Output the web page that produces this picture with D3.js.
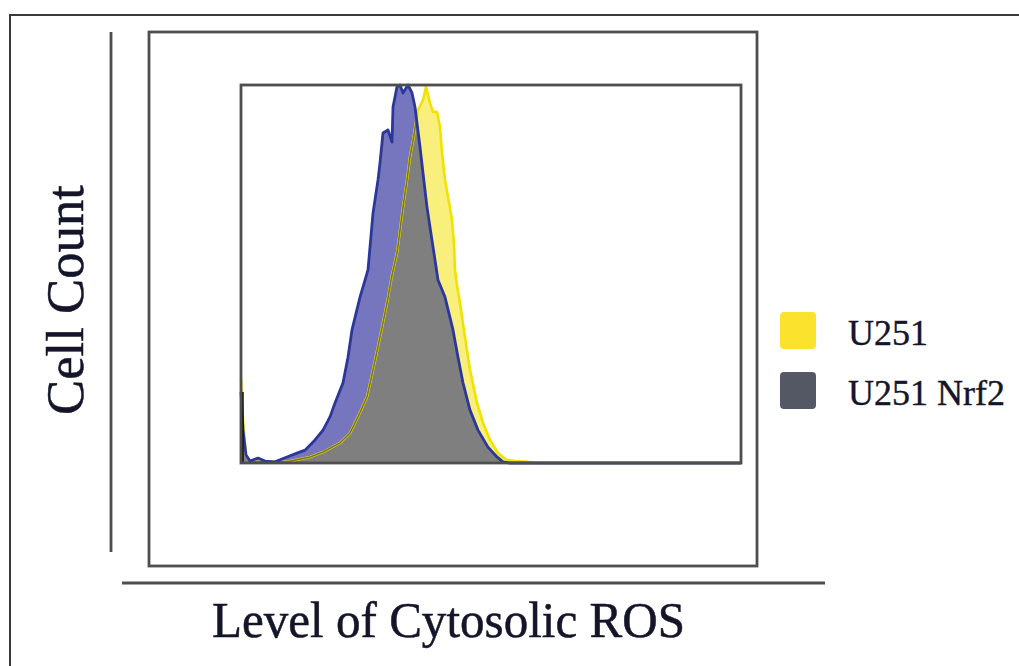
<!DOCTYPE html>
<html>
<head>
<meta charset="utf-8">
<title>Cytosolic ROS histogram</title>
<script src="https://d3js.org/d3.v7.min.js"></script>
<style>
  body { margin: 0; background: #fff; }
  text { font-family: "Liberation Serif", "Times New Roman", serif; fill: #15152a; }
</style>
</head>
<body>
<div id="chart"></div>
<script>

// channel (0-250) and relative cell count (% of max)
var seriesNames = ["U251", "U251 Nrf2"];
var u251Channel = [0, 1, 2.5, 4.5, 14.5, 23, 34.5, 41, 49.5, 54.5, 58.5, 63, 66, 69.5, 73, 75.5, 78, 79.5, 81, 83, 84.5, 86.5, 88.5, 91, 92.5, 94.5, 96, 98, 99.5, 100.5, 102, 103.5, 105.5, 106.5, 107, 108, 109.5, 112, 114.5, 118, 121, 124.5, 128.5, 133, 137, 143, 147, 250];
var u251Count   = [22.5, 11.4, 2.1, 0.3, 0.3, 0.3, 1.6, 2.9, 5.3, 7.9, 12.2, 17.5, 24.6, 33.3, 42.3, 49.7, 55.6, 61.6, 67.7, 74.9, 81.0, 86.8, 93.4, 96.0, 99.5, 95.2, 92.9, 92.9, 88.9, 82.0, 74.9, 70.4, 64.3, 57.7, 51.1, 47.1, 42.3, 33.3, 24.6, 15.9, 10.6, 6.1, 2.6, 0.8, 0.5, 0.3, 0, 0];
var nrf2Channel = [0, 1, 2.5, 4.5, 8.5, 12, 17, 23, 28, 32, 37, 41, 44.5, 47, 51, 53.5, 55.5, 59.5, 62, 63.5, 64.5, 66, 68.5, 69.5, 71, 73.5, 75.5, 76, 78, 79.5, 81, 83.5, 85.5, 87, 88, 89.5, 91, 93, 94.5, 97, 98.5, 102, 106, 108.5, 111, 114.5, 118.5, 123.5, 128, 131, 134.5, 250];
var nrf2Count   = [18.8, 8.7, 2.1, 0.5, 1.3, 0.5, 0.3, 1.6, 2.6, 3.4, 6.1, 8.7, 12.2, 15.9, 21.2, 28.0, 35.2, 43.9, 48.4, 51.1, 57.1, 66.1, 74.9, 79.4, 87.3, 88.1, 84.9, 94.2, 99.5, 100, 97.9, 100, 97.9, 94.2, 89.9, 83.6, 76.7, 67.7, 62.4, 53.7, 48.4, 43.9, 35.2, 28.0, 21.2, 14.0, 8.7, 4.2, 1.6, 0.3, 0, 0];

var u251 = u251Channel.map(function(c, i) { return {x: c, y: u251Count[i]}; });
var nrf2 = nrf2Channel.map(function(c, i) { return {x: c, y: nrf2Count[i]}; });

var W = 1019, H = 666;
var svg = d3.select("#chart").append("svg")
    .attr("width", W)
    .attr("height", H);

// plot box
var box = {left: 241, right: 741, top: 85, bottom: 463};

var x = d3.scaleLinear().domain([0, 250]).range([box.left, box.right]);
var y = d3.scaleLinear().domain([0, 100]).range([box.bottom, box.top]);

var area = d3.area()
    .x(function(d) { return x(d.x); })
    .y0(y(0))
    .y1(function(d) { return y(d.y); });
var line = d3.line()
    .x(function(d) { return x(d.x); })
    .y(function(d) { return y(d.y); });

// outer page frame
svg.append("path")
    .attr("d", "M10," + H + "V15H" + W)
    .attr("fill", "none")
    .attr("stroke", "#3a3a3a")
    .attr("stroke-width", 2);

// clip paths for the overlap
var defs = svg.append("defs");
defs.append("clipPath").attr("id", "clipU251")
  .append("path").attr("d", area(u251));
defs.append("clipPath").attr("id", "clipNrf2")
  .append("path").attr("d", area(nrf2));

// fills
svg.append("path").attr("d", area(u251)).attr("fill", "#f8ef7c");
svg.append("path").attr("d", area(nrf2)).attr("fill", "#7676bf");
svg.append("path").attr("d", area(nrf2))
    .attr("clip-path", "url(#clipU251)")
    .attr("fill", "#7f7f7f");

// outlines
svg.append("path").attr("d", line(u251))
    .attr("fill", "none").attr("stroke", "#f1e300").attr("stroke-width", 2.6)
    .attr("stroke-linejoin", "round");
svg.append("path").attr("d", line(u251))
    .attr("clip-path", "url(#clipNrf2)")
    .attr("fill", "none").attr("stroke", "#77742c").attr("stroke-width", 1.6);
svg.append("path").attr("d", line(nrf2))
    .attr("fill", "none").attr("stroke", "#2b379a").attr("stroke-width", 2.8)
    .attr("stroke-linejoin", "round");
// dark spike at the first channel
svg.append("line")
    .attr("x1", x(0) + 1.5).attr("x2", x(0) + 1.5)
    .attr("y1", y(0)).attr("y2", y(nrf2Count[0]))
    .attr("stroke", "#111").attr("stroke-width", 2.5);

// inner and middle frames
svg.append("rect")
    .attr("x", box.left).attr("y", box.top)
    .attr("width", box.right - box.left).attr("height", box.bottom - box.top)
    .attr("fill", "none").attr("stroke", "#4e4e4e").attr("stroke-width", 2.8);
svg.append("rect")
    .attr("x", 149).attr("y", 32)
    .attr("width", 608).attr("height", 534)
    .attr("fill", "none").attr("stroke", "#4e4e4e").attr("stroke-width", 2.8);

// axis lines
svg.append("line")
    .attr("x1", 111).attr("x2", 111).attr("y1", 32).attr("y2", 552)
    .attr("stroke", "#4e4e4e").attr("stroke-width", 2.8);
svg.append("line")
    .attr("x1", 122).attr("x2", 825).attr("y1", 583).attr("y2", 583)
    .attr("stroke", "#4e4e4e").attr("stroke-width", 2.8);

// axis titles
svg.append("text")
    .attr("x", 212).attr("y", 637)
    .attr("font-size", 50)
    .attr("textLength", 473)
    .attr("lengthAdjust", "spacingAndGlyphs")
    .style("stroke", "#15152a").style("stroke-width", 0.5)
    .text("Level of Cytosolic ROS");
svg.append("text")
    .attr("transform", "translate(83,415) rotate(-90)")
    .attr("font-size", 52)
    .attr("textLength", 230)
    .attr("lengthAdjust", "spacingAndGlyphs")
    .style("stroke", "#15152a").style("stroke-width", 0.5)
    .text("Cell Count");

// legend
var colors = ["#fbe22c", "#535864"];
var legend = svg.selectAll(".legend")
    .data(seriesNames)
    .enter().append("g")
    .attr("transform", function(d, i) { return "translate(780," + (312 + i * 60) + ")"; });
legend.append("rect")
    .attr("width", 36).attr("height", 37).attr("rx", 4)
    .attr("fill", function(d, i) { return colors[i]; });
legend.append("text")
    .attr("x", 68).attr("y", 33)
    .attr("font-size", 36)
    .style("stroke", "#15152a").style("stroke-width", 0.4)
    .text(function(d) { return d; });

</script>
</body>
</html>
